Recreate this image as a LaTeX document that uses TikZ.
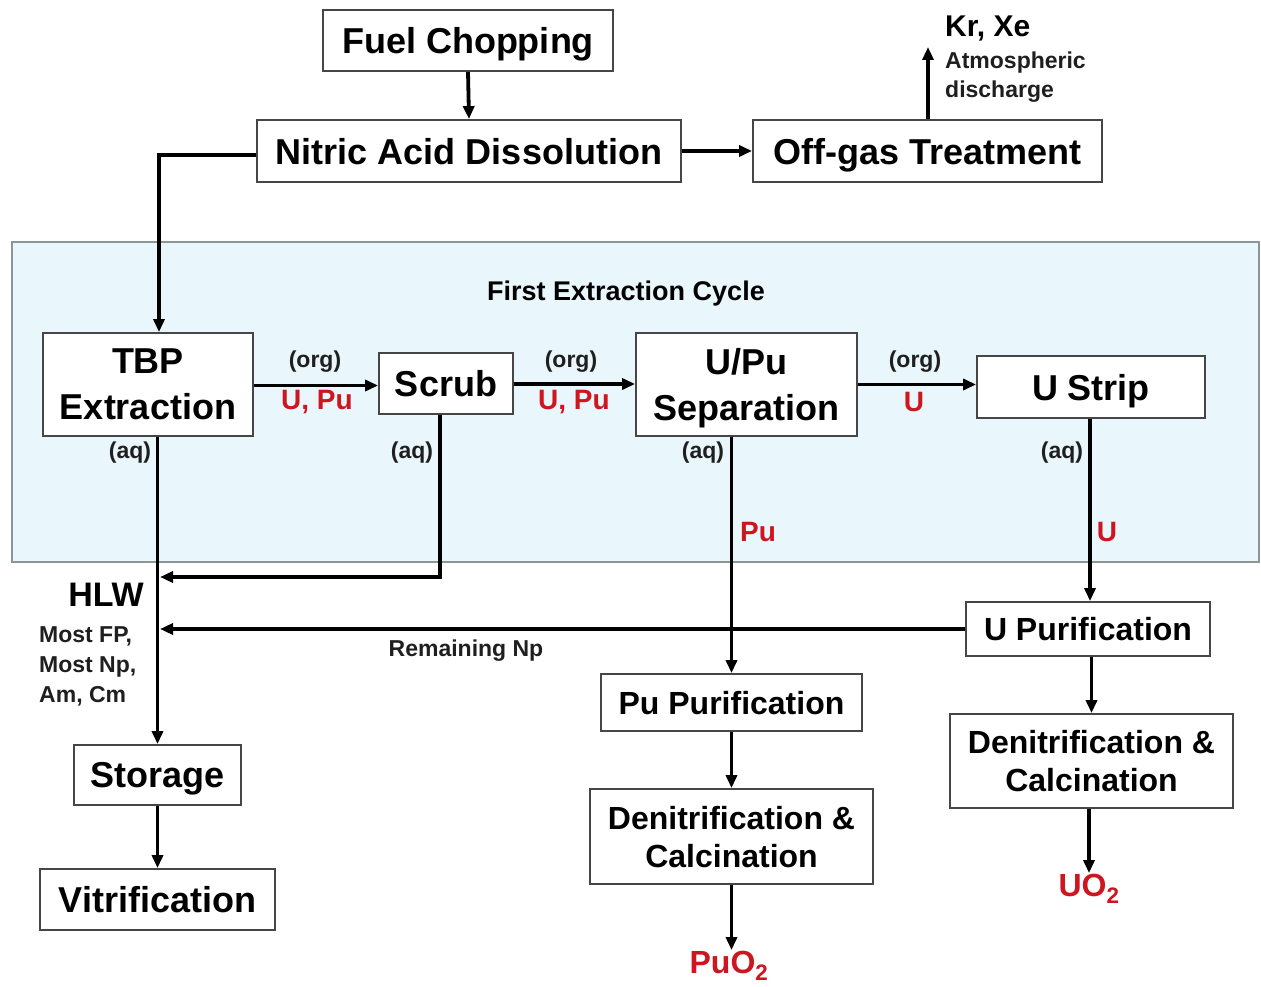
\documentclass[tikz,border=0pt]{standalone}
\usepackage{fontspec}
\setmainfont{Liberation Sans}
\usetikzlibrary{arrows.meta}
\definecolor{cyclefill}{RGB}{233,246,251}
\definecolor{cycleline}{RGB}{140,150,150}
\definecolor{boxline}{RGB}{70,70,70}
\definecolor{labred}{RGB}{205,22,32}
\begin{document}
\begin{tikzpicture}[x=1pt,y=-1pt,
  box/.style={draw=boxline, line width=1.8pt, fill=white, inner sep=0pt, align=center, text depth=0pt,
    font=\fontsize{36}{46}\selectfont\bfseries},
  boxs/.style={box, font=\fontsize{32}{38}\selectfont\bfseries},
  flow/.style={line width=3.8pt, -{Triangle[length=13pt,width=11pt]}},
  small/.style={inner sep=0pt, font=\fontsize{23}{30}\selectfont\bfseries, text=black!88},
  redlab/.style={inner sep=0pt, font=\fontsize{28}{32}\selectfont\bfseries, text=labred}]
\useasboundingbox (0,0) rectangle (1261,987);
\fill[white] (0,0) rectangle (1261,987);

% first extraction cycle region
\node (cycle) [draw=cycleline, line width=2pt, fill=cyclefill, minimum width=1247, minimum height=320, inner sep=0pt] at (635.5,402) {};
\node (cyclelab) [inner sep=0pt, font=\fontsize{27}{30}\selectfont\bfseries] at (626,294) {First Extraction Cycle};

% boxes
\node (fc) [box, minimum width=290, minimum height=61] at (468,40.5) {Fuel Chopping};
\node (nad) [box, minimum width=424, minimum height=62] at (469,151) {Nitric Acid Dissolution};
\node (ogt) [box, minimum width=349, minimum height=62] at (927.5,151) {Off-gas Treatment};
\node (tbp) [box, minimum width=210, minimum height=103] at (148,384.5) {TBP\\Extraction};
\node (scrub) [box, minimum width=134, minimum height=61] at (446,383.5) {Scrub};
\node (upu) [box, minimum width=221, minimum height=103] at (746.5,384.5) {U/Pu\\Separation};
\node (ustrip) [box, minimum width=228, minimum height=62] at (1091,387) {U Strip};
\node (upur) [boxs, minimum width=244, minimum height=54] at (1088,629) {U Purification};
\node (pupur) [boxs, minimum width=261, minimum height=57] at (731.5,702.5) {Pu Purification};
\node (denpu) [boxs, minimum width=283, minimum height=95] at (731.5,836.5) {Denitrification \&\\Calcination};
\node (denu) [boxs, minimum width=283, minimum height=94] at (1091.5,761) {Denitrification \&\\Calcination};
\node (storage) [box, minimum width=167, minimum height=60] at (157.5,775) {Storage};
\node (vit) [box, minimum width=235, minimum height=61] at (157.5,899.5) {Vitrification};

% products
\node (puo2) [inner sep=1pt, font=\fontsize{32}{36}\selectfont\bfseries, text=labred] at (729,966) {PuO\textsubscript{2}};
\node (uo2) [inner sep=1pt, font=\fontsize{32}{36}\selectfont\bfseries, text=labred] at (1089,889) {UO\textsubscript{2}};

% off-gas labels
\coordinate (krx) at (928,47);
\node (kr) [anchor=west, inner sep=0pt, font=\fontsize{30}{32}\selectfont\bfseries] at (945,29) {Kr, Xe};
\node (atm) [anchor=west, small] at (945,63) {Atmospheric};
\node (dis) [anchor=west, small] at (945,92) {discharge};

% junction points on HLW line
\coordinate (j1) at (160,577);
\coordinate (j2) at (160,629);

% connectors
\draw[flow] (fc.south) -- (nad.north);
\draw[flow] (nad.east) -- (ogt.east -| ogt.west);
\draw[flow] (ogt.north -| krx) -- (krx);
\draw[flow] ([yshift=-4pt]nad.west) -| ([xshift=11pt]tbp.north);
\draw[flow] ([yshift=-1pt]tbp.east) -- ([yshift=-1pt]tbp.east -| scrub.west);
\draw[flow] ([yshift=-0.5pt]scrub.east) -- ([yshift=-0.5pt]scrub.east -| upu.west);
\draw[flow] (upu.east) -- (upu.east -| ustrip.west);
\draw[flow] (storage.north |- tbp.south) -- (storage.north);
\draw[flow] ([xshift=-6pt]scrub.south) |- (j1);
\draw[flow] (upur.west) -- (j2);
\draw[flow] (pupur.north |- upu.south) -- (pupur.north);
\draw[flow] ([xshift=-1pt]ustrip.south) -- ([xshift=-1pt]ustrip.south |- upur.north);
\draw[flow] (pupur.south) -- (denpu.north);
\draw[flow] (denpu.south) -- (denpu.south |- puo2.north);
\draw[flow] (upur.south -| denu.north) -- (denu.north);
\draw[flow] (denu.south -| uo2.north) -- (uo2.north);
\draw[flow] (storage.south) -- (vit.north);

% stream labels
\node (org1) [small] at (315,362) {(org)};
\node (up1) [redlab] at (317,402) {U, Pu};
\node (org2) [small] at (571,362) {(org)};
\node (up2) [redlab] at (574,402) {U, Pu};
\node (org3) [small] at (915,362) {(org)};
\node (u1) [redlab] at (914,402) {U};
\node (aq1) [small] at (130,453) {(aq)};
\node (aq2) [small] at (412,453) {(aq)};
\node (aq3) [small] at (703,453) {(aq)};
\node (aq4) [small] at (1062,453) {(aq)};
\node (pu1) [redlab] at (758,532) {Pu};
\node (u2) [redlab] at (1107,532) {U};
\node (hlw) [anchor=east, inner sep=0pt, font=\fontsize{34}{36}\selectfont\bfseries] at (144,595) {HLW};
\node (fp) [anchor=north west, small, align=left] at (39,626) {Most FP,\\Most Np,\\Am, Cm};
\node (np) [small] at (466,651) {Remaining Np};
\end{tikzpicture}
\end{document}
